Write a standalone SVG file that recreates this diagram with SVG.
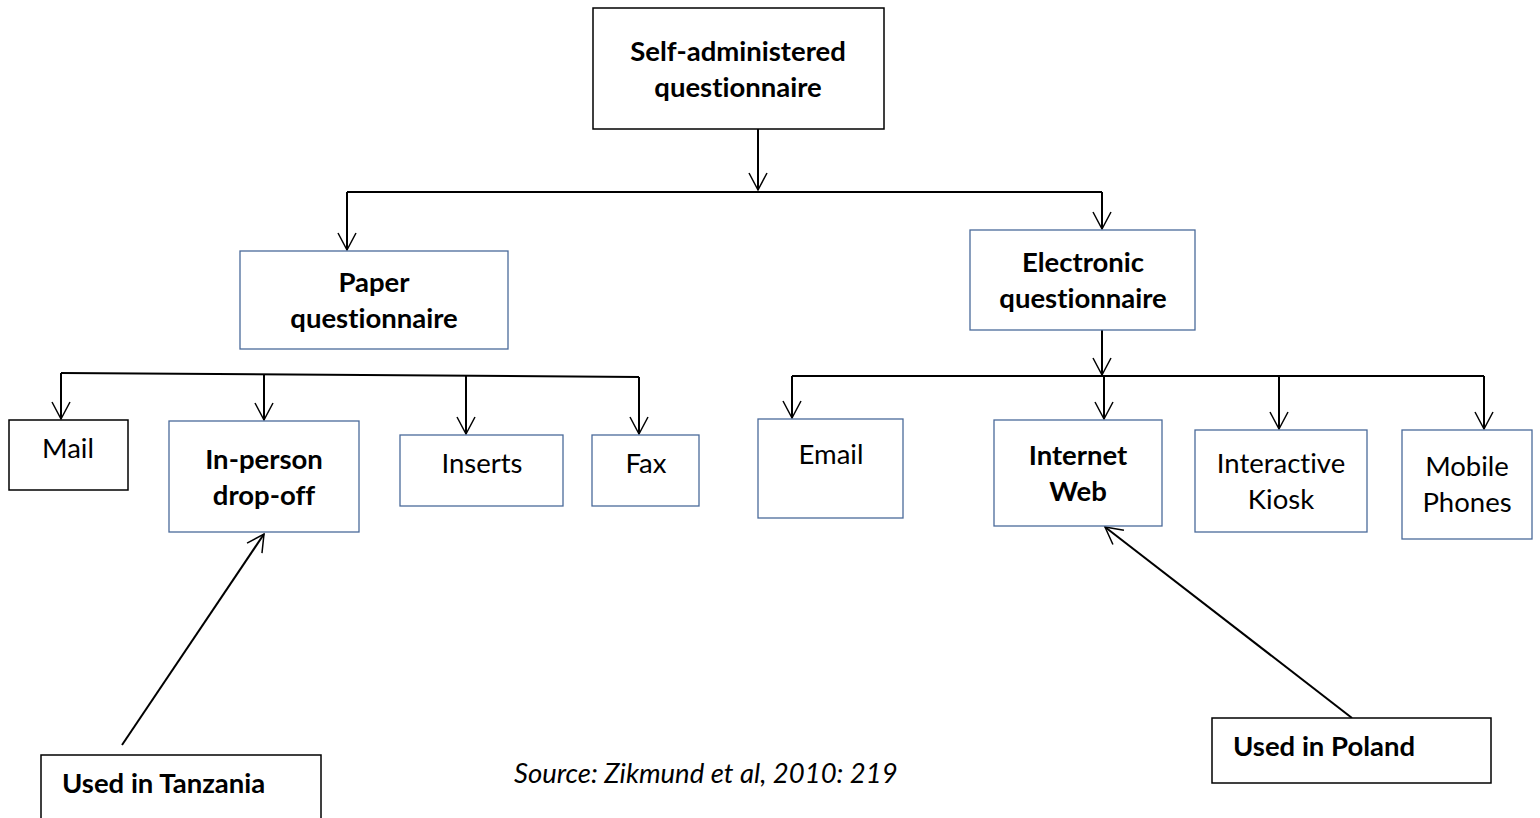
<svg xmlns="http://www.w3.org/2000/svg" width="1540" height="818" viewBox="0 0 1540 818">
  <defs>
    <marker id="arrow" markerUnits="userSpaceOnUse" markerWidth="22" markerHeight="22" viewBox="0 -11 22 22" refX="18" refY="0" orient="auto">
      <path d="M1,-9 L18,0 L1,9" fill="none" stroke="#000" stroke-width="1.5"/>
    </marker>
    <style>
      .box-k { fill: #fff; stroke: #000; stroke-width: 1.5; }
      .box-b { fill: #fff; stroke: #4a6a9a; stroke-width: 1.3; }
      .t { font-family: Lato, "Open Sans", sans-serif; font-size: 27.5px; fill: #000; text-anchor: middle; font-variant-ligatures: none; }
      .b { font-weight: bold; }
      .l { text-anchor: start; }
      .src { font-family: Lato, "Open Sans", sans-serif; font-size: 27.5px; font-style: italic; fill: #000; font-variant-ligatures: none; }
      .conn { fill: none; stroke: #000; stroke-width: 2; }
      .conn-a { fill: none; stroke: #000; stroke-width: 2; marker-end: url(#arrow); }
    </style>
  </defs>
  <rect width="1540" height="818" fill="#fff"/>

  <g id="connectors">
    <!-- root to category branch -->
    <line class="conn-a" x1="758" y1="129" x2="758" y2="190"/>
    <line class="conn" x1="347" y1="192" x2="1102" y2="192"/>
    <line class="conn-a" x1="347" y1="192" x2="347" y2="250"/>
    <line class="conn-a" x1="1102" y1="192" x2="1102" y2="229"/>
    <!-- paper branch -->
    <line class="conn" x1="61" y1="373" x2="639" y2="377"/>
    <line class="conn-a" x1="61" y1="373" x2="61" y2="419"/>
    <line class="conn-a" x1="264" y1="374" x2="264" y2="420"/>
    <line class="conn-a" x1="466" y1="376" x2="466" y2="434"/>
    <line class="conn-a" x1="639" y1="377" x2="639" y2="434"/>
    <!-- electronic branch -->
    <line class="conn-a" x1="1102" y1="330" x2="1102" y2="375"/>
    <line class="conn" x1="792" y1="376" x2="1484" y2="376"/>
    <line class="conn-a" x1="792" y1="376" x2="792" y2="418"/>
    <line class="conn-a" x1="1104" y1="376" x2="1104" y2="419"/>
    <line class="conn-a" x1="1279" y1="376" x2="1279" y2="429"/>
    <line class="conn-a" x1="1484" y1="376" x2="1484" y2="429"/>
    <!-- usage notes -->
    <line class="conn-a" x1="122" y1="745" x2="264" y2="534"/>
    <line class="conn-a" x1="1352" y1="718" x2="1105" y2="527"/>
  </g>

  <g id="root">
    <rect class="box-k" x="593" y="8" width="291" height="121"/>
    <text class="t b" x="738" y="61">Self-administered</text>
    <text class="t b" x="738" y="97">questionnaire</text>
  </g>

  <g id="paper">
    <rect class="box-b" x="240" y="251" width="268" height="98"/>
    <text class="t b" x="374" y="292">Paper</text>
    <text class="t b" x="374" y="328">questionnaire</text>
  </g>

  <g id="electronic">
    <rect class="box-b" x="970" y="230" width="225" height="100"/>
    <text class="t b" x="1083" y="272">Electronic</text>
    <text class="t b" x="1083" y="308">questionnaire</text>
  </g>

  <g id="mail">
    <rect class="box-k" x="9" y="420" width="119" height="70"/>
    <text class="t" x="68" y="458">Mail</text>
  </g>

  <g id="in-person">
    <rect class="box-b" x="169" y="421" width="190" height="111"/>
    <text class="t b" x="264" y="469">In-person</text>
    <text class="t b" x="264" y="505">drop-off</text>
  </g>

  <g id="inserts">
    <rect class="box-b" x="400" y="435" width="163" height="71"/>
    <text class="t" x="482" y="473">Inserts</text>
  </g>

  <g id="fax">
    <rect class="box-b" x="592" y="435" width="107" height="71"/>
    <text class="t" x="646" y="473">Fax</text>
  </g>

  <g id="email">
    <rect class="box-b" x="758" y="419" width="145" height="99"/>
    <text class="t" x="831" y="464">Email</text>
  </g>

  <g id="internet-web">
    <rect class="box-b" x="994" y="420" width="168" height="106"/>
    <text class="t b" x="1078" y="465">Internet</text>
    <text class="t b" x="1078" y="501">Web</text>
  </g>

  <g id="kiosk">
    <rect class="box-b" x="1195" y="430" width="172" height="102"/>
    <text class="t" x="1281" y="473">Interactive</text>
    <text class="t" x="1281" y="509">Kiosk</text>
  </g>

  <g id="mobile">
    <rect class="box-b" x="1402" y="430" width="130" height="109"/>
    <text class="t" x="1467" y="476">Mobile</text>
    <text class="t" x="1467" y="512">Phones</text>
  </g>

  <g id="tanzania">
    <rect class="box-k" x="41" y="755" width="280" height="70"/>
    <text class="t b l" x="62" y="793">Used in Tanzania</text>
  </g>

  <g id="poland">
    <rect class="box-k" x="1212" y="718" width="279" height="65"/>
    <text class="t b l" x="1233" y="756">Used in Poland</text>
  </g>

  <g id="source">
    <text class="src" x="514" y="783">Source: Zikmund et al, 2010: 219</text>
  </g>
</svg>
